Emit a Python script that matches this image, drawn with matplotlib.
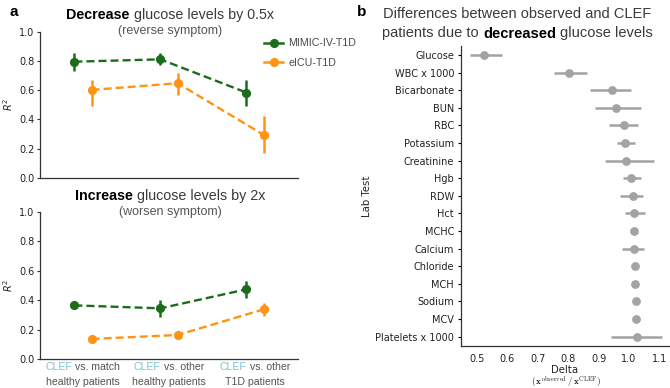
import matplotlib
matplotlib.use("Agg")
import matplotlib.pyplot as plt
from matplotlib.lines import Line2D
import numpy as np

# ---------------- data ----------------
cat_first = ["vs. match", "vs. other", "vs. other"]
cat_second = ["healthy patients", "healthy patients", "T1D patients"]
series_names = ["MIMIC-IV-T1D", "eICU-T1D"]

# R^2 after decreasing glucose (0.5x)
mimic_dec = [0.795, 0.811, 0.584]
mimic_dec_lo = [0.734, 0.773, 0.489]
mimic_dec_hi = [0.852, 0.852, 0.670]
eicu_dec = [0.602, 0.648, 0.295]
eicu_dec_lo = [0.493, 0.568, 0.170]
eicu_dec_hi = [0.670, 0.716, 0.425]

# R^2 after increasing glucose (2x)
mimic_inc = [0.364, 0.344, 0.473]
mimic_inc_lo = [0.355, 0.287, 0.412]
mimic_inc_hi = [0.373, 0.400, 0.532]
eicu_inc = [0.136, 0.163, 0.337]
eicu_inc_lo = [0.128, 0.133, 0.292]
eicu_inc_hi = [0.145, 0.186, 0.378]

# Delta (observed / CLEF) per lab test
lab_tests = ["Glucose", "WBC x 1000", "Bicarbonate", "BUN", "RBC", "Potassium",
             "Creatinine", "Hgb", "RDW", "Hct", "MCHC", "Calcium", "Chloride",
             "MCH", "Sodium", "MCV", "Platelets x 1000"]
delta = [0.525, 0.804, 0.943, 0.959, 0.985, 0.987, 0.989, 1.006, 1.014, 1.017,
         1.017, 1.018, 1.019, 1.020, 1.022, 1.024, 1.025]
delta_lo = [0.478, 0.754, 0.872, 0.888, 0.936, 0.960, 0.921, 0.979, 0.971, 0.988,
            1.017, 0.976, 1.019, 1.020, 1.022, 1.024, 0.940]
delta_hi = [0.582, 0.863, 1.006, 1.039, 1.031, 1.019, 1.082, 1.039, 1.047, 1.053,
            1.017, 1.050, 1.019, 1.020, 1.022, 1.024, 1.109]

# ---------------- style ----------------
DPI = 100
W, H = 670, 388
GREEN = "#1b6d1b"
ORANGE = "#ff9414"
GREY_PT = "#a3a3a3"
CLEF_BLUE = "#7cc3d8"
TXT = "#3a3a3a"
SANS = "Liberation Sans"

plt.rcParams["font.family"] = ["DejaVu Sans"]
plt.rcParams["axes.edgecolor"] = "#333333"
plt.rcParams["axes.linewidth"] = 0.9

fig = plt.figure(figsize=(W / DPI, H / DPI), dpi=DPI)


def add_axes_px(left, top, right, bottom):
    return fig.add_axes([left / W, 1 - bottom / H, (right - left) / W, (bottom - top) / H])


def mixed_text(xc, y, pieces, size, family=SANS):
    """Draw a line made of differently styled pieces, centered at pixel xc."""
    r = fig.canvas.get_renderer()
    items = []
    for s, weight, color in pieces:
        lead = len(s) - len(s.lstrip(" "))
        t = fig.text(0, 0, s.lstrip(" "), fontsize=size, fontweight=weight,
                     color=color, family=family, ha="left", va="center")
        w = t.get_window_extent(r).width
        items.append((t, lead * 0.278 * size * DPI / 72, w))
    total = sum(g + w for _, g, w in items)
    x = xc - total / 2
    for t, g, w in items:
        x += g
        t.set_position((x / W, 1 - y / H))
        x += w


def style_left(ax):
    for s in ("top", "right"):
        ax.spines[s].set_visible(False)
    ax.set_xlim(-0.5, 2.5)
    ax.set_ylim(0, 1.0)
    ax.set_yticks(np.arange(0, 1.01, 0.2))
    ax.set_yticklabels([f"{v:.1f}" for v in np.arange(0, 1.01, 0.2)])
    ax.set_xticks([0, 1, 2])
    ax.set_xticklabels([])
    ax.tick_params(axis="x", length=0)
    ax.tick_params(axis="y", length=2.5, width=0.8, pad=1.5, labelsize=7,
                   labelcolor="#222222", color="#333333")
    ax.set_ylabel(r"$R^2$", fontsize=7, color="#222222")
    ax.yaxis.set_label_coords(-0.098, 0.5)


def draw_pair(ax, g, glo, ghi, o, olo, ohi):
    x = np.arange(len(g))
    for off, v, lo, hi, c in ((-0.1, g, glo, ghi, GREEN), (0.1, o, olo, ohi, ORANGE)):
        v = np.asarray(v); lo = np.asarray(lo); hi = np.asarray(hi)
        ax.plot(x + off, v, ls=(0, (3.4, 1.7)), lw=1.7, color=c, zorder=2)
        ax.errorbar(x + off, v, yerr=[v - lo, hi - v], fmt="o", ms=5.6,
                    color=c, elinewidth=1.8, capsize=0, zorder=3)


# ---------------- panel a (top) ----------------
ax1 = add_axes_px(40, 31.7, 298, 178)
style_left(ax1)
draw_pair(ax1, mimic_dec, mimic_dec_lo, mimic_dec_hi, eicu_dec, eicu_dec_lo, eicu_dec_hi)

handles = [Line2D([], [], color=GREEN, marker="o", ms=5.6, lw=1.8),
           Line2D([], [], color=ORANGE, marker="o", ms=5.6, lw=1.8)]
fig.legend(handles, series_names, loc="upper left",
           bbox_to_anchor=(264 / W, 1 - 38.5 / H), frameon=False,
           prop={"family": SANS, "size": 7.7}, labelcolor="#4a4a4a",
           handlelength=1.8, handletextpad=0.5, labelspacing=0.9,
           borderaxespad=0, borderpad=0)

# ---------------- panel a (bottom) ----------------
ax2 = add_axes_px(40, 211.7, 298, 359)
style_left(ax2)
draw_pair(ax2, mimic_inc, mimic_inc_lo, mimic_inc_hi, eicu_inc, eicu_inc_lo, eicu_inc_hi)

# titles
mixed_text(170, 15, [("Decrease", "bold", "black"),
                     (" glucose levels by 0.5x", "normal", TXT)], 10.3)
mixed_text(170, 31, [("(reverse symptom)", "normal", "#555555")], 9.0)
mixed_text(170, 196, [("Increase", "bold", "black"),
                      (" glucose levels by 2x", "normal", TXT)], 10.3)
mixed_text(170, 212, [("(worsen symptom)", "normal", "#555555")], 9.0)

# category labels
for i in range(len(cat_first)):
    xc = ax2.transData.transform((i, 0))[0]
    mixed_text(xc, 367, [("CLEF", "normal", CLEF_BLUE),
                         (" " + cat_first[i], "normal", "#555555")], 7.6)
    mixed_text(xc, 382, [(cat_second[i], "normal", "#555555")], 7.6)

fig.text(9 / W, 1 - 12 / H, "a", fontsize=11, fontweight="bold", family=SANS,
         ha="left", va="center")

# ---------------- panel b ----------------
ax3 = add_axes_px(461, 46.2, 670, 345.5)
for s in ("top", "right"):
    ax3.spines[s].set_visible(False)
yy = np.arange(len(lab_tests))
d = np.asarray(delta)
ax3.errorbar(d, yy, xerr=[d - np.asarray(delta_lo), np.asarray(delta_hi) - d],
             fmt="o", ms=5.3, color=GREY_PT, elinewidth=1.8, capsize=0)
ax3.set_ylim(len(lab_tests) - 0.5, -0.5)
ax3.set_xlim(0.448, 1.135)
ax3.set_yticks(yy)
ax3.set_yticklabels(lab_tests)
ax3.set_xticks(np.round(np.arange(0.5, 1.11, 0.1), 1))
ax3.set_xticklabels([f"{v:.1f}" for v in np.arange(0.5, 1.11, 0.1)])
ax3.tick_params(axis="y", length=2.5, width=0.8, pad=2.5, labelsize=7,
                labelcolor="#222222")
ax3.tick_params(axis="x", length=0, pad=6, labelsize=7, labelcolor="#222222")
ax3.set_ylabel("Lab Test", fontsize=7.3, color="#222222")
ax3.yaxis.set_label_coords(-0.426, 0.5)

fig.text(565 / W, 1 - 373 / H, "Delta", fontsize=7.3, color="#222222",
         ha="center", va="baseline")
fig.text(566 / W, 1 - 384.5 / H,
         r"$(\,\mathbf{x}^{\mathrm{observed}}\,/\,\mathbf{x}^{\mathrm{CLEF}})$",
         fontsize=6.6, color="#222222", ha="center", va="baseline",
         math_fontfamily="cm")

mixed_text(517.5, 13.5, [("Differences between observed and CLEF", "normal", TXT)], 10.55)
mixed_text(517.5, 33.5, [("patients due to", "normal", TXT),
                         (" decreased", "bold", "black"),
                         (" glucose levels", "normal", TXT)], 10.55)
fig.text(357 / W, 1 - 12 / H, "b", fontsize=11, fontweight="bold", family=SANS,
         ha="left", va="center")

fig.savefig("out.png", dpi=DPI)
